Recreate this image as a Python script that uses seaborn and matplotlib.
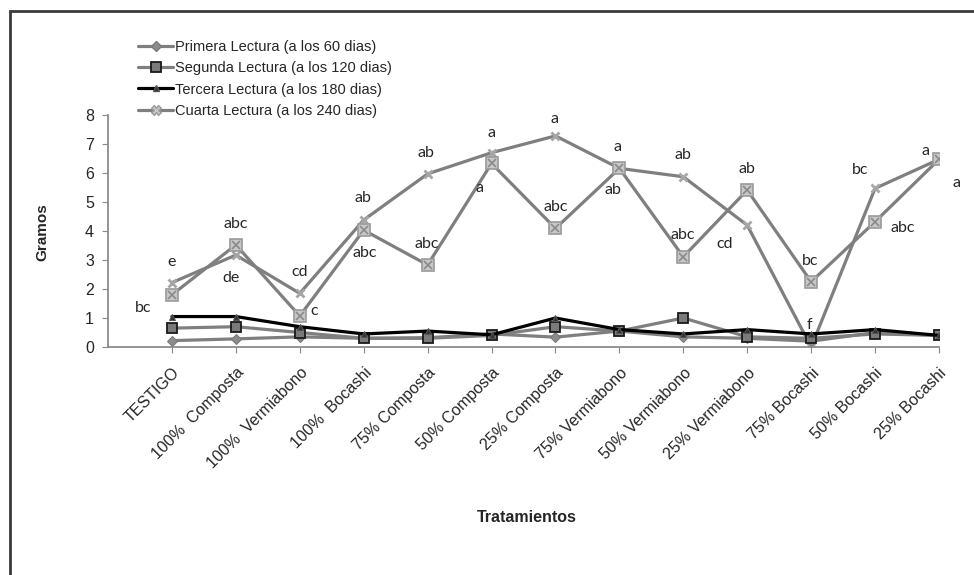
import matplotlib
matplotlib.use("Agg")
import matplotlib.pyplot as plt
from matplotlib.lines import Line2D
from matplotlib.patches import Rectangle
import seaborn as sns
import numpy as np

# Tratamientos (eje x)
tratamientos = ["TESTIGO", "100%  Composta", "100%  Vermiabono", "100%  Bocashi",
                "75% Composta", "50% Composta", "25% Composta", "75% Vermiabono",
                "50% Vermiabono", "25% Vermiabono", "75% Bocashi", "50% Bocashi",
                "25% Bocashi"]

# Gramos por lectura
primera = [0.22, 0.28, 0.35, 0.30, 0.32, 0.45, 0.34, 0.55, 0.35, 0.30, 0.20, 0.50, 0.40]
segunda = [0.65, 0.70, 0.50, 0.30, 0.30, 0.40, 0.70, 0.55, 1.00, 0.35, 0.30, 0.45, 0.40]
tercera = [1.05, 1.05, 0.70, 0.45, 0.55, 0.42, 1.00, 0.60, 0.45, 0.60, 0.45, 0.60, 0.40]
cuarta = [1.80, 3.52, 1.07, 4.03, 2.83, 6.33, 4.09, 6.16, 3.11, 5.41, 2.25, 4.32, 6.47]
cuarta_b = [2.22, 3.17, 1.85, 4.38, 5.97, 6.70, 7.28, 6.16, 5.87, 4.20, 0.00, 5.47, 6.47]

leyenda = ["Primera Lectura (a los 60 dias)", "Segunda Lectura (a los 120 dias)",
           "Tercera Lectura (a los 180 dias)", "Cuarta Lectura (a los 240 dias)"]

# Letras de significancia (posicion en indice de tratamiento, gramos)
letras = ["bc", "e", "abc", "de", "cd", "c", "ab", "abc", "ab", "abc", "a", "a",
          "a", "abc", "a", "ab", "ab", "abc", "cd", "ab", "bc", "f", "bc", "abc",
          "a", "a"]
letras_x = [-0.45, 0.0, 1.0, 0.93, 1.99, 2.23, 2.99, 3.02, 3.98, 3.98, 5.0, 4.81,
            5.98, 6.0, 6.97, 6.9, 7.99, 7.99, 8.64, 8.99, 9.99, 9.98, 10.77, 11.43,
            11.79, 12.28]
letras_y = [1.34, 2.93, 4.24, 2.37, 2.6, 1.25, 5.13, 3.25, 6.68, 3.55, 7.37, 5.47,
            7.85, 4.84, 6.89, 5.41, 6.62, 3.86, 3.55, 6.13, 2.97, 0.76, 6.09, 4.09,
            6.77, 5.64]

sns.set_style("white")
plt.rcParams['font.family'] = ['Liberation Sans', 'DejaVu Sans']

fig = plt.figure(figsize=(9.74, 5.75), dpi=100)
ax = fig.add_axes([108 / 974, 1 - 347 / 575, (939 - 108) / 974, (347 - 115) / 575])

gris = '#7f7f7f'
lw = 2.3
sns.lineplot(x=tratamientos, y=cuarta_b, ax=ax, color=gris, lw=lw, sort=False,
             marker='x', ms=6, mec='#a6a6a6', mew=2.0, label='_nolegend_', zorder=2)
sns.lineplot(x=tratamientos, y=cuarta, ax=ax, color=gris, lw=lw, sort=False,
             marker='s', ms=8, mfc='#c8c8c8', mec='#9a9a9a', mew=1.2, label='_nolegend_', zorder=3)
ax.plot(np.arange(len(cuarta)), cuarta, ls='none', marker='x', ms=6, mec='#8a8a8a', mew=1.2, zorder=4)
sns.lineplot(x=tratamientos, y=primera, ax=ax, color=gris, lw=lw, sort=False,
             marker='D', ms=5, mfc='#8c8c8c', mec='#7a7a7a', label='_nolegend_', zorder=4)
sns.lineplot(x=tratamientos, y=segunda, ax=ax, color=gris, lw=lw, sort=False,
             marker='s', ms=7, mfc='#7a7a7a', mec='#1a1a1a', mew=1.3, label='_nolegend_', zorder=5)
sns.lineplot(x=tratamientos, y=tercera, ax=ax, color='black', lw=lw, sort=False,
             marker='^', ms=5, mfc='#333333', mec='#555555', label='_nolegend_', zorder=6)

for t, x, y in zip(letras, letras_x, letras_y):
    ax.text(x, y, t, ha='center', va='center', fontsize=11.5, family=['Lato', 'DejaVu Sans'],
            clip_on=False)

ax.set_xlim(-1, 12)
ax.set_ylim(0, 8)
ax.set_yticks(range(0, 9))
ax.set_xticks(range(len(tratamientos)))
ax.set_xticklabels(tratamientos, rotation=45, ha='right', rotation_mode='anchor', fontsize=11.5)
ax.tick_params(axis='y', labelsize=11.5, length=4, color='#888888', direction='out', left=True, pad=6)
ax.tick_params(axis='x', length=4, color='#888888', direction='out', bottom=True, pad=9)
for s in ['top', 'right']:
    ax.spines[s].set_visible(False)
for s in ['left', 'bottom']:
    ax.spines[s].set_color('#8c8c8c')
    ax.spines[s].set_linewidth(1.3)
ax.set_xlabel("")
ax.set_ylabel("")
if ax.get_legend() is not None:
    ax.get_legend().remove()

fig.text(42 / 974, 1 - 232 / 575, "Gramos", rotation=90, ha='center', va='center',
         fontsize=11, fontweight='bold')
fig.text(527 / 974, 1 - 518 / 575, "Tratamientos", ha='center', va='center',
         fontsize=11.5, fontweight='bold')

handles = [
    Line2D([], [], color=gris, lw=lw, marker='D', ms=5, mfc='#8c8c8c', mec='#7a7a7a'),
    Line2D([], [], color=gris, lw=lw, marker='s', ms=7, mfc='#7a7a7a', mec='#1a1a1a', mew=1.3),
    Line2D([], [], color='black', lw=lw, marker='^', ms=5, mfc='#333333', mec='#555555'),
    Line2D([], [], color=gris, lw=lw, marker='X', ms=7, mfc='#c8c8c8', mec='#9a9a9a'),
]
fig.legend(handles, leyenda, loc='upper left', bbox_to_anchor=(138 / 974, 1 - 40 / 575),
           frameon=False, fontsize=10.5, handlelength=2.4, handletextpad=0.15,
           labelspacing=0.5, borderpad=0, borderaxespad=0)

fig.patches.append(Rectangle((10 / 974, -0.1), 1.2, 1.1 - 11 / 575, transform=fig.transFigure,
                             fill=False, edgecolor='#3a3a3a', lw=2, zorder=0))

fig.savefig("out.png", dpi=100)
